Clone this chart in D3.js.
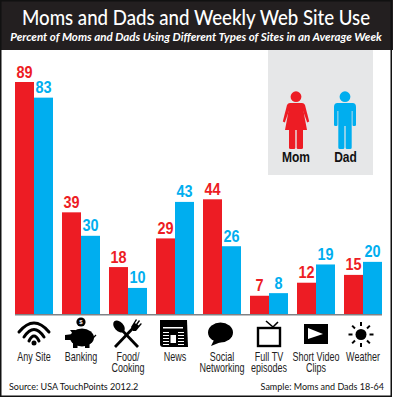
<!DOCTYPE html>
<html>
<head>
<meta charset="utf-8">
<script src="https://cdn.jsdelivr.net/npm/d3@7"></script>
<style>
  html, body { margin: 0; padding: 0; background: #fff; }
  svg { display: block; }
  text { font-family: "Liberation Sans", sans-serif; }
  .title { font-family: Lato, sans-serif; font-weight: 500; fill: #fff; text-anchor: middle; }
  .sub { font-family: Lato, sans-serif; font-style: italic; font-weight: bold; fill: #fff; text-anchor: middle; }
  .val { font-weight: bold; font-size: 17px; text-anchor: middle; }
  .cat { font-size: 12.5px; fill: #222; text-anchor: middle; }
  .note { font-family: Lato, sans-serif; font-size: 10px; fill: #111; }
  .leg { font-weight: bold; font-size: 15px; fill: #111; text-anchor: middle; }
</style>
</head>
<body>
<svg width="393" height="398"></svg>
<script>
const categories = [["Any Site"], ["Banking"], ["Food/", "Cooking"], ["News"], ["Social", "Networking"], ["Full TV", "episodes"], ["Short Video", "Clips"], ["Weather"]];
const moms = [89, 39, 18, 29, 44, 7, 12, 15];
const dads = [83, 30, 10, 43, 26, 8, 19, 20];
const seriesNames = ["Mom", "Dad"];
const seriesColors = ["#ed1c24", "#00aeef"];

const svg = d3.select("svg");
const baseY = 314;

const x0 = d3.scaleBand().domain(d3.range(categories.length)).range([15, 382]).paddingInner(9 / 47).paddingOuter(0);
const x1 = d3.scaleBand().domain([0, 1]).range([0, x0.bandwidth()]);
const y = d3.scaleLinear().domain([0, 89]).range([baseY, 82]);

// header
svg.append("rect").attr("width", 393).attr("height", 50).attr("fill", "#231f20");
svg.append("text").attr("class", "title").attr("transform", "translate(196,25) scale(0.9,1)")
    .attr("font-size", 20.7)
    .text("Moms and Dads and Weekly Web Site Use");
svg.append("text").attr("class", "sub").attr("transform", "translate(196,41) scale(1.05,1)")
    .attr("font-size", 11)
    .text("Percent of Moms and Dads Using Different Types of Sites in an Average Week");

// legend panel
svg.append("rect").attr("x", 268).attr("y", 50).attr("width", 105).attr("height", 125).attr("fill", "#e6e7e8");

const mom = svg.append("g").attr("transform", "translate(296,0)").attr("fill", seriesColors[0]);
mom.append("circle").attr("cy", 96.7).attr("r", 5.4);
mom.append("path").attr("d", "M-6,103 L6,103 L11,130 L-11,130 Z");
mom.append("path").attr("d", "M6,103 Q8,103 9,105 L13.2,121.5 L11.2,122.5 L6,108 Z");
mom.append("path").attr("d", "M-6,103 Q-8,103 -9,105 L-13.2,121.5 L-11.2,122.5 L-6,108 Z");
mom.append("path").attr("d", "M-7,130 L-0.7,130 L-0.7,147.5 Q-0.7,149 -2,149 L-5.5,149 Q-7,149 -7,147.5 Z");
mom.append("path").attr("d", "M0.7,130 L7,130 L7,147.5 Q7,149 5.5,149 L2,149 Q0.7,149 0.7,147.5 Z");

const dad = svg.append("g").attr("transform", "translate(345,0)").attr("fill", seriesColors[1]);
dad.append("circle").attr("cy", 96.7).attr("r", 5.4);
dad.append("path").attr("d", "M-7.5,103 L7.5,103 Q11,103 11,107 L11,125 Q11,126 9.5,126 L8.5,126 Q7.5,126 7.5,125 L7.5,111 L6.7,111 L6.7,147.5 Q6.7,149 5.2,149 L2,149 Q0.6,149 0.6,147.5 L0.6,126 L-0.6,126 L-0.6,147.5 Q-0.6,149 -2,149 L-5.2,149 Q-6.7,149 -6.7,147.5 L-6.7,111 L-7.5,111 L-7.5,125 Q-7.5,126 -8.5,126 L-9.5,126 Q-11,126 -11,125 L-11,107 Q-11,103 -7.5,103 Z");

svg.selectAll("text.leg").data(seriesNames).join("text").attr("class", "leg")
    .attr("transform", (d, i) => `translate(${i ? 345.5 : 296},162) scale(0.8,1)`)
    .text(d => d);

// bars
const groups = svg.selectAll("g.group").data(categories).join("g").attr("class", "group")
    .attr("transform", (d, i) => `translate(${x0(i)},0)`);

[moms, dads].forEach((series, s) => {
    groups.append("rect")
        .attr("x", x1(s))
        .attr("y", (d, i) => y(series[i]))
        .attr("width", x1.bandwidth())
        .attr("height", (d, i) => baseY - y(series[i]))
        .attr("fill", seriesColors[s]);
    groups.append("text").attr("class", "val")
        .attr("transform", (d, i) => `translate(${x1(s) + x1.bandwidth() / 2},${y(series[i]) - 4.5}) scale(0.85,1)`)
        .attr("fill", seriesColors[s])
        .text((d, i) => series[i]);
});

// baseline
svg.append("rect").attr("x", 15).attr("y", baseY).attr("width", 367).attr("height", 1.5).attr("fill", "#808285");

// category labels
groups.each(function(d) {
    const cx = x0.bandwidth() / 2;
    d3.select(this).selectAll("text.cat").data(d).join("text").attr("class", "cat")
        .attr("transform", (t, i) => `translate(${cx},${361 + i * 11}) scale(0.72,1)`)
        .text(t => t);
});

// icons, each drawn around the centre of its group
const iconY = 334;
const icons = [
  g => { // wifi
    g.selectAll("path").data([[-15, -2, -11], [-10, 3, -4.5], [-5, 7, 2]]).join("path")
        .attr("fill", "none").attr("stroke", "#000").attr("stroke-width", 3).attr("stroke-linecap", "round")
        .attr("d", a => `M${a[0]},${a[1]} Q0,${2 * a[2] - a[1]} ${-a[0]},${a[1]}`);
    g.append("circle").attr("cy", 9).attr("r", 2.5);
  },
  g => { // piggy bank
    g.append("ellipse").attr("cx", 1).attr("cy", 3.5).attr("rx", 12).attr("ry", 9);
    g.append("rect").attr("x", -8).attr("y", 8).attr("width", 4.5).attr("height", 6);
    g.append("rect").attr("x", 4).attr("y", 8).attr("width", 4.5).attr("height", 6);
    g.append("path").attr("d", "M-8,0 L-11,-4 L-6,-4 L-2,-2 L-9,6 L-16,6 L-16,1 Z");
    g.append("path").attr("d", "M12,4 L15,1").attr("stroke", "#000").attr("stroke-width", 1.2);
    g.append("circle").attr("cy", -12).attr("r", 4.6);
    g.append("text").attr("y", -9.8).attr("text-anchor", "middle").attr("font-size", 6).attr("font-weight", "bold").attr("fill", "#fff").text("$");
  },
  g => { // spoon and fork
    g.append("path").attr("d", "M-9,-7 L10,13").attr("stroke", "#000").attr("stroke-width", 2.8);
    g.append("path").attr("d", "M7,-8 L-13,13").attr("stroke", "#000").attr("stroke-width", 2.8);
    g.append("ellipse").attr("cx", -9).attr("cy", -7.5).attr("rx", 4.6).attr("ry", 7).attr("transform", "rotate(-42 -9 -7.5)");
    g.append("path").attr("d", "M3,-7 L8,-15 L9,-14 L7,-11 L8,-10 L11,-14 L12,-13 L9.5,-9.5 L10.5,-8.5 L13,-11 L13.8,-10 L8,-3 L5,-3 Z");
  },
  g => { // newspaper
    g.append("path").attr("d", "M-15,-14 L12,-14 L13,13 L-12,13 Q-15,13 -15,10 Z");
    g.append("rect").attr("x", -12).attr("y", -7).attr("width", 20).attr("height", 1.5).attr("fill", "#fff");
    g.append("rect").attr("x", -4.5).attr("y", 1).attr("width", 5.5).attr("height", 8).attr("fill", "#fff");
    [-2, 1, 4, 7, 10].forEach(dy => {
      g.append("rect").attr("x", -12).attr("y", dy).attr("width", 6).attr("height", 1).attr("fill", "#fff");
      g.append("rect").attr("x", 3).attr("y", dy).attr("width", 6).attr("height", 1).attr("fill", "#fff");
    });
  },
  g => { // speech bubble
    g.append("ellipse").attr("cx", -1.5).attr("cy", -1.5).attr("rx", 12.5).attr("ry", 10);
    g.append("path").attr("d", "M-8,6 L-11,12 L-1,8 Z");
  },
  g => { // tv
    g.append("rect").attr("x", -11).attr("y", -6).attr("width", 22).attr("height", 18).attr("fill", "none").attr("stroke", "#000").attr("stroke-width", 2.4);
    g.append("path").attr("d", "M-3,-13 L4,-7 L9,-12").attr("fill", "none").attr("stroke", "#000").attr("stroke-width", 1.6);
  },
  g => { // play
    g.append("rect").attr("x", -12).attr("y", -10).attr("width", 24).attr("height", 20);
    g.append("path").attr("d", "M-8,-6 L7,0 L-8,5 Z").attr("fill", "#fff");
  },
  g => { // sun
    g.append("circle").attr("cx", -2).attr("cy", 0.5).attr("r", 5.5);
    d3.range(8).forEach(k => {
      g.append("rect").attr("x", -1).attr("y", -12.5).attr("width", 2).attr("height", 4)
        .attr("transform", `translate(-2,0.5) rotate(${k * 45})`);
    });
  }
];
groups.each(function(d, i) {
    const g = d3.select(this).append("g").attr("transform", `translate(${x0.bandwidth() / 2},${iconY})`);
    icons[i](g);
});

// footer notes
svg.append("text").attr("class", "note").attr("transform", "translate(9,390) scale(0.9,1)").text("Source: USA TouchPoints 2012.2");
svg.append("text").attr("class", "note").attr("transform", "translate(384,390) scale(0.9,1)").attr("text-anchor", "end").text("Sample: Moms and Dads 18-64");

// frame
svg.append("rect").attr("x", 0.75).attr("y", 0.75).attr("width", 390.5).attr("height", 395.5)
    .attr("fill", "none").attr("stroke", "#111").attr("stroke-width", 1.5);
</script>
</body>
</html>
